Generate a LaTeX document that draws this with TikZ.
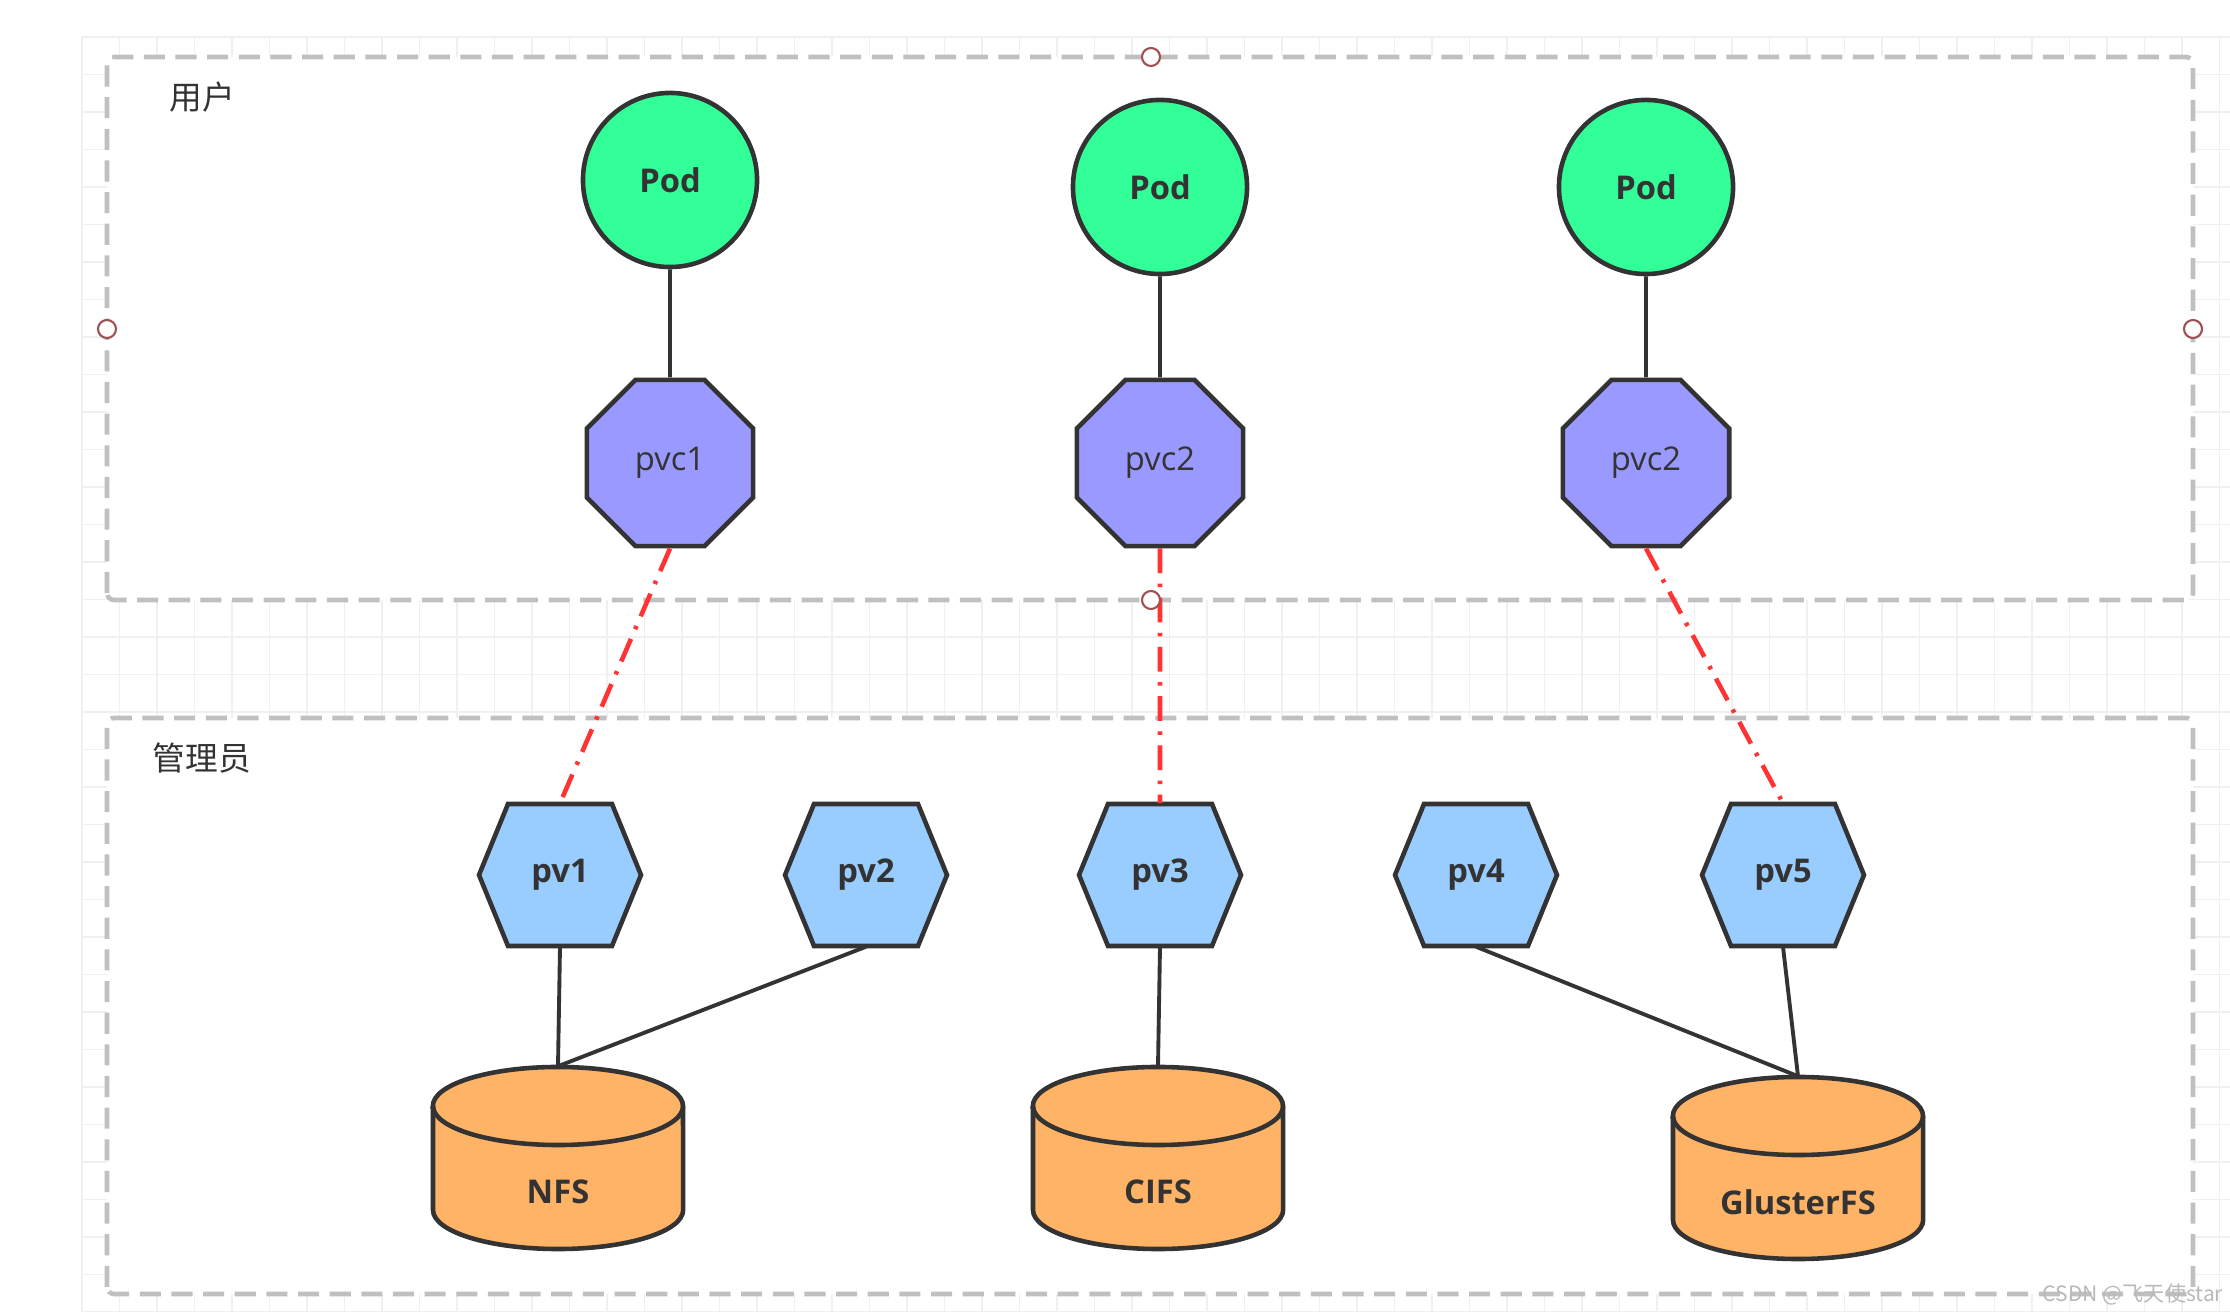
\documentclass[tikz,border=0pt]{standalone}
\usepackage{fontspec}
\setmainfont{Open Sans}
\newfontfamily\cjk{Noto Sans CJK SC}
\usepackage{tikz}
\usetikzlibrary{shapes.geometric}

\definecolor{podgreen}{HTML}{33FF99}
\definecolor{pvcblue}{HTML}{9999FF}
\definecolor{pvblue}{HTML}{99CCFF}
\definecolor{dborange}{HTML}{FFB366}
\definecolor{ink}{HTML}{333333}
\definecolor{bindred}{HTML}{FF3333}
\definecolor{boxgray}{HTML}{C0C0C0}
\definecolor{gridgray}{HTML}{F0F0F0}
\definecolor{gripred}{HTML}{A05050}

\tikzset{
  pod/.style={circle, draw=ink, line width=1.3pt, fill=podgreen, minimum size=1.74cm, inner sep=0pt, text=ink, font=\fontsize{9.3}{11}\selectfont\bfseries},
  pvc/.style={regular polygon, regular polygon sides=8, draw=ink, line width=1.3pt, fill=pvcblue, minimum size=1.8cm, inner sep=0pt, text=ink, font=\fontsize{9.3}{11}\selectfont},
  pvshape/.style={draw=ink, line width=1.3pt, fill=pvblue, line join=miter},
  pvbox/.style={minimum width=1.62cm, minimum height=1.42cm, inner sep=0pt, text=ink, font=\fontsize{9.3}{11}\selectfont\bfseries},
  dbshape/.style={draw=ink, line width=1.3pt, fill=dborange},
  dbbox/.style={minimum width=2.5cm, minimum height=1.82cm, inner sep=0pt},
  dbtext/.style={text=ink, font=\fontsize{9.3}{11}\selectfont\bfseries, inner sep=0pt},
  link/.style={draw=ink, line width=1.1pt},
  bind/.style={draw=bindred, line width=1.3pt, dash pattern=on 7pt off 3pt on 1pt off 3pt},
  container/.style={draw=boxgray, line width=1.3pt, fill=white, rounded corners=2pt, dash pattern=on 6pt off 3pt},
  grip/.style={circle, draw=gripred, fill=white, line width=0.6pt, minimum size=0.18cm, inner sep=0pt},
  boxlabel/.style={text=ink, font=\cjk\fontsize{9.3}{11}\selectfont}
}

\begin{document}
\begin{tikzpicture}[x=0.01cm, y=0.01cm]
  \path[use as bounding box, fill=white] (0,0) rectangle (2230,1312);
  % background grid
  \foreach \i in {0,...,57}
    \draw[gridgray, line width=0.4pt] (82+37.5*\i,0) -- (82+37.5*\i,1275);
  \foreach \j in {0,...,34}
    \draw[gridgray, line width=0.4pt] (82,1275-37.5*\j) -- (2230,1275-37.5*\j);

  % containers
  \draw[container] (107,712) rectangle (2193,1255);
  \draw[container] (107,18) rectangle (2193,594);
  \node[boxlabel] (user) at (202,1215) {用户};
  \node[boxlabel] (admin) at (202,554) {管理员};

  % pods and claims
  \node[pod] (pod1) at (670,1132) {Pod};
  \node[pod] (pod2) at (1160,1125) {Pod};
  \node[pod] (pod3) at (1646,1125) {Pod};
  \node[pvc] (pvc1) at (670,849) {pvc1};
  \node[pvc] (pvc2) at (1160,849) {pvc2};
  \node[pvc] (pvc3) at (1646,849) {pvc2};

  % volumes
  \foreach \n/\x in {1/560, 2/866, 3/1160, 4/1476, 5/1783} {
    \draw[pvshape] (\x,437) +(-81,0) -- +(-52,71) -- +(52,71) -- +(81,0) -- +(52,-71) -- +(-52,-71) -- cycle;
    \node[pvbox] (pv\n) at (\x,437) {pv\n};
  }

  % storage
  \foreach \n/\x/\y/\lbl in {nfs/558/154/NFS, cifs/1158/154/CIFS, gfs/1798/144/GlusterFS} {
    \draw[dbshape] (\x-125,\y+52) -- (\x-125,\y-52) arc[start angle=180, end angle=360, x radius=1.25cm, y radius=0.39cm] -- (\x+125,\y+52) arc[start angle=0, end angle=180, x radius=1.25cm, y radius=0.39cm] -- cycle;
    \draw[dbshape, fill=none] (\x-125,\y+52) arc[start angle=180, end angle=360, x radius=1.25cm, y radius=0.39cm];
    \node[dbbox, label={[dbtext, yshift=-0.34cm]center:\lbl}] (\n) at (\x,\y) {};
  }

  \draw[link] (pod1) -- (pvc1);
  \draw[link] (pod2) -- (pvc2);
  \draw[link] (pod3) -- (pvc3);
  \draw[bind] (pvc1.south) -- (pv1.north);
  \draw[bind] (pvc2.south) -- (pv3.north);
  \draw[bind] (pvc3.south) -- (pv5.north);
  \draw[link] (pv1.south) -- (nfs.north);
  \draw[link] (pv2.south) -- (nfs.north);
  \draw[link] (pv3.south) -- (cifs.north);
  \draw[link] (pv4.south) -- (gfs.north);
  \draw[link] (pv5.south) -- (gfs.north);

  % selection handles
  \node[grip] (h1) at (107,983) {};
  \node[grip] (h2) at (1151,1255) {};
  \node[grip] (h3) at (2193,983) {};
  \node[grip] (h4) at (1151,712) {};

  \node[text=gray!55, font=\cjk\fontsize{6}{7}\selectfont] (mark) at (2133,18) {CSDN @飞天使star};
\end{tikzpicture}
\end{document}
